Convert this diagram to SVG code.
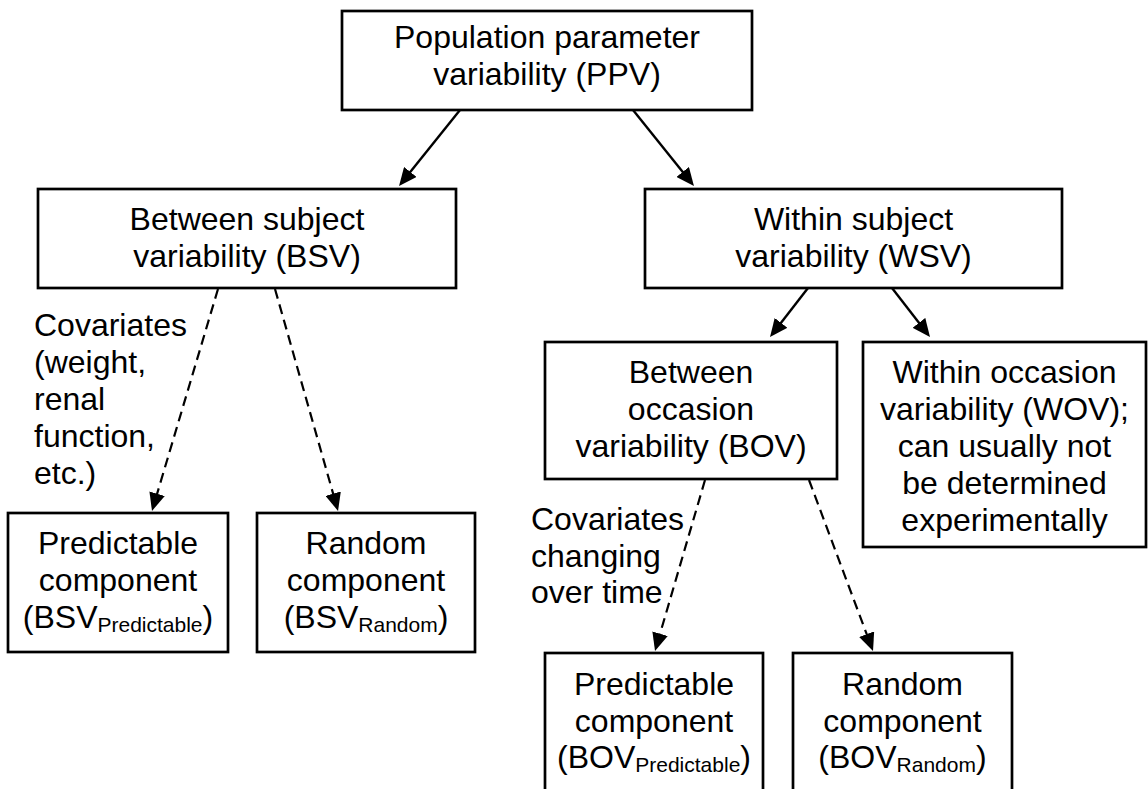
<svg xmlns="http://www.w3.org/2000/svg" width="1148" height="789" viewBox="0 0 1148 789">
  <style>
    .box { fill: #ffffff; stroke: #000000; stroke-width: 2.7; }
    .lbl { font-family: "Liberation Sans", Arial, sans-serif; font-size: 32px; fill: #000000; text-anchor: middle; }
    .note { font-family: "Liberation Sans", Arial, sans-serif; font-size: 32px; fill: #000000; }
    .sub { font-size: 21px; }
    .solid { fill: none; stroke: #000000; stroke-width: 2.4; marker-end: url(#head); }
    .dashed { fill: none; stroke: #000000; stroke-width: 2.2; stroke-dasharray: 10 6; marker-end: url(#head); }
  </style>
  <defs>
    <marker id="head" markerUnits="userSpaceOnUse" markerWidth="18" markerHeight="16" refX="12" refY="8" orient="auto">
      <path d="M0,0 L18,8 L0,16 z" fill="#000000"/>
    </marker>
  </defs>
  <rect width="1148" height="789" fill="#ffffff"/>

  <g id="connectors">
    <line class="solid" x1="460" y1="110" x2="402.8" y2="181.3"/>
    <line class="solid" x1="633" y1="110" x2="690.2" y2="181.3"/>
    <line class="solid" x1="808" y1="288" x2="773.7" y2="332.3"/>
    <line class="solid" x1="892" y1="288" x2="926.3" y2="332.3"/>
    <line class="dashed" x1="218" y1="289" x2="153.7" y2="505.2"/>
    <line class="dashed" x1="275" y1="289" x2="336.4" y2="505.2"/>
    <line class="dashed" x1="705" y1="480" x2="656.7" y2="645.2"/>
    <line class="dashed" x1="809" y1="480" x2="870.9" y2="645.4"/>
  </g>

  <g id="ppv">
    <rect class="box" x="342" y="11" width="410" height="99"/>
    <text class="lbl" x="547" y="48">Population parameter</text>
    <text class="lbl" x="547" y="85">variability (PPV)</text>
  </g>

  <g id="bsv">
    <rect class="box" x="38" y="189" width="418" height="99"/>
    <text class="lbl" x="247" y="230">Between subject</text>
    <text class="lbl" x="247" y="267">variability (BSV)</text>
  </g>

  <g id="wsv">
    <rect class="box" x="645" y="189" width="417" height="99"/>
    <text class="lbl" x="853.5" y="230">Within subject</text>
    <text class="lbl" x="853.5" y="267">variability (WSV)</text>
  </g>

  <g id="bov">
    <rect class="box" x="545" y="342" width="292" height="137"/>
    <text class="lbl" x="691" y="383">Between</text>
    <text class="lbl" x="691" y="420">occasion</text>
    <text class="lbl" x="691" y="457">variability (BOV)</text>
  </g>

  <g id="wov">
    <rect class="box" x="863" y="342" width="283" height="205"/>
    <text class="lbl" x="1004.5" y="383">Within occasion</text>
    <text class="lbl" x="1004.5" y="420">variability (WOV);</text>
    <text class="lbl" x="1004.5" y="457">can usually not</text>
    <text class="lbl" x="1004.5" y="494">be determined</text>
    <text class="lbl" x="1004.5" y="531">experimentally</text>
  </g>

  <g id="bsv-covariates">
    <text class="note" x="34" y="336">Covariates</text>
    <text class="note" x="34" y="373">(weight,</text>
    <text class="note" x="34" y="410">renal</text>
    <text class="note" x="34" y="447">function,</text>
    <text class="note" x="34" y="484">etc.)</text>
  </g>

  <g id="bov-covariates">
    <text class="note" x="531" y="530">Covariates</text>
    <text class="note" x="531" y="566.5">changing</text>
    <text class="note" x="531" y="603">over time</text>
  </g>

  <g id="bsv-predictable">
    <rect class="box" x="8" y="513" width="220" height="139"/>
    <text class="lbl" x="118" y="554">Predictable</text>
    <text class="lbl" x="118" y="591">component</text>
    <text class="lbl" x="118" y="628">(BSV<tspan class="sub" dy="4">Predictable</tspan><tspan dy="-4">)</tspan></text>
  </g>

  <g id="bsv-random">
    <rect class="box" x="257" y="513" width="218" height="139"/>
    <text class="lbl" x="366" y="554">Random</text>
    <text class="lbl" x="366" y="591">component</text>
    <text class="lbl" x="366" y="628">(BSV<tspan class="sub" dy="4">Random</tspan><tspan dy="-4">)</tspan></text>
  </g>

  <g id="bov-predictable">
    <rect class="box" x="545" y="653" width="218" height="150"/>
    <text class="lbl" x="654" y="695">Predictable</text>
    <text class="lbl" x="654" y="732">component</text>
    <text class="lbl" x="654" y="768">(BOV<tspan class="sub" dy="4">Predictable</tspan><tspan dy="-4">)</tspan></text>
  </g>

  <g id="bov-random">
    <rect class="box" x="793" y="653" width="219" height="150"/>
    <text class="lbl" x="902.5" y="695">Random</text>
    <text class="lbl" x="902.5" y="732">component</text>
    <text class="lbl" x="902.5" y="768">(BOV<tspan class="sub" dy="4">Random</tspan><tspan dy="-4">)</tspan></text>
  </g>
</svg>
